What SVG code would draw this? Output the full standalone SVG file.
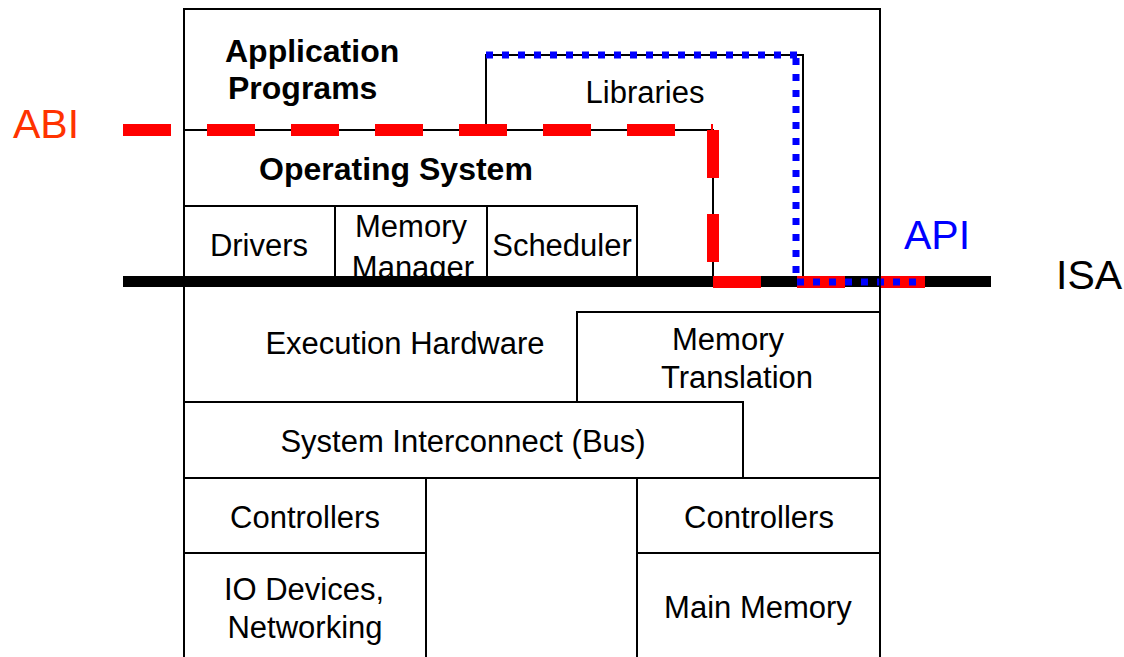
<svg xmlns="http://www.w3.org/2000/svg" width="1124" height="657" viewBox="0 0 1124 657">
  <style>
    .box { fill: #ffffff; stroke: #000000; stroke-width: 2; }
    .ln { fill: none; stroke: #000000; stroke-width: 2; }
    .t { font-family: "Liberation Sans", Arial, sans-serif; font-size: 31px; fill: #000000; text-anchor: middle; }
    .b { font-family: "Liberation Sans", Arial, sans-serif; font-size: 32px; font-weight: bold; fill: #000000; }
    .big { font-family: "Liberation Sans", Arial, sans-serif; font-size: 41px; }
    .abi { fill: none; stroke: #ff0000; stroke-width: 12; stroke-dasharray: 48 36; }
    .api { fill: none; stroke: #0000ff; stroke-width: 7; stroke-dasharray: 7 9; }
  </style>
  <rect width="1124" height="657" fill="#ffffff"/>

  <g id="outer">
    <path class="ln" d="M184,660 V9 H880 V660"/>
  </g>

  <g id="application-programs">
    <text class="b" x="225" y="62">Application</text>
    <text class="b" x="228" y="99">Programs</text>
  </g>

  <g id="libraries">
    <path class="ln" d="M486,130 V55 H803 V282"/>
    <text class="t" x="645" y="103">Libraries</text>
  </g>

  <g id="operating-system">
    <path class="ln" d="M184,130 H713 V282"/>
    <text class="b" x="259" y="180">Operating System</text>
  </g>

  <g id="drivers">
    <rect class="box" x="184" y="206" width="151" height="76"/>
    <text class="t" x="259" y="256">Drivers</text>
  </g>
  <g id="memory-manager">
    <rect class="box" x="335" y="206" width="152" height="76"/>
    <text class="t" x="411" y="237">Memory</text>
    <text class="t" x="413" y="278">Manager</text>
  </g>
  <g id="scheduler">
    <rect class="box" x="487" y="206" width="150" height="76"/>
    <text class="t" x="562" y="256">Scheduler</text>
  </g>

  <g id="execution-hardware">
    <text class="t" x="405" y="354">Execution Hardware</text>
  </g>

  <g id="memory-translation">
    <rect class="box" x="577" y="312" width="303" height="166"/>
    <text class="t" x="728" y="350">Memory</text>
    <text class="t" x="737" y="388">Translation</text>
  </g>

  <g id="system-interconnect">
    <rect class="box" x="184" y="402" width="559" height="76"/>
    <text class="t" x="463" y="452">System Interconnect (Bus)</text>
  </g>

  <g id="io-controllers">
    <rect class="box" x="184" y="478" width="242" height="75"/>
    <text class="t" x="305" y="528">Controllers</text>
  </g>
  <g id="io-devices">
    <path class="ln" d="M184,553 H426 V478 M426,553 V660"/>
    <text class="t" x="304" y="600">IO Devices,</text>
    <text class="t" x="305" y="638">Networking</text>
  </g>

  <g id="mem-controllers">
    <rect class="box" x="637" y="478" width="243" height="75"/>
    <text class="t" x="759" y="528">Controllers</text>
  </g>
  <g id="main-memory">
    <path class="ln" d="M637,553 V660"/>
    <text class="t" x="758" y="618">Main Memory</text>
  </g>

  <g id="connectors">
    <line x1="123" y1="281.5" x2="991" y2="281.5" stroke="#000000" stroke-width="11"/>
    <line class="abi" x1="123" y1="130" x2="713" y2="130"/>
    <line class="abi" x1="713" y1="130" x2="713" y2="282"/>
    <line class="abi" x1="713" y1="282" x2="925" y2="282"/>
    <line class="api" x1="486" y1="55" x2="800" y2="55"/>
    <line class="api" x1="796" y1="58" x2="796" y2="274"/>
    <line class="api" x1="797" y1="282" x2="920" y2="282"/>
    <line x1="880" y1="276" x2="880" y2="288" stroke="#000000" stroke-width="1.5"/>
  </g>

  <g id="labels">
    <text class="big" x="13" y="138" fill="#ff3300">ABI</text>
    <text class="big" x="904" y="249" fill="#0000ff">API</text>
    <text class="big" x="1056" y="289" fill="#000000">ISA</text>
  </g>
</svg>
